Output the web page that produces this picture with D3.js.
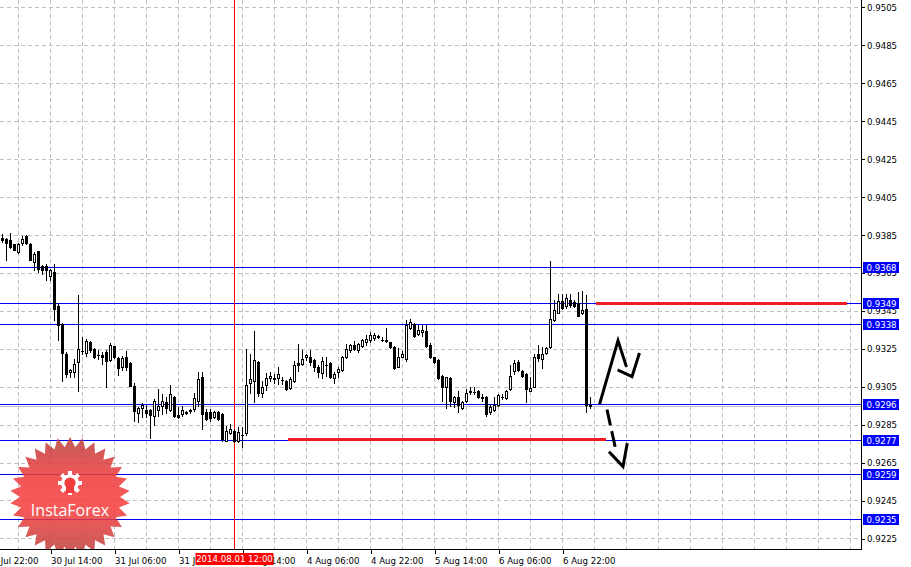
<!DOCTYPE html>
<html><head><meta charset="utf-8">
<script src="https://cdn.jsdelivr.net/npm/d3@7"></script>
<style>html,body{margin:0;padding:0;background:#fff;overflow:hidden}</style>
</head><body>
<svg id="c" width="911" height="567"></svg>
<script>
// ---- data (H1 candles, bar 0 = 30 Jul 02:00) ----
const opens = [0.93837,0.93832,0.93823,0.93802,0.93761,0.93809,0.93844,0.93806,0.93709,0.93765,
0.93686,0.93686,0.93633,0.93656,0.93475,0.93384,0.93225,0.93128,0.93128,0.93181,
0.93239,0.93231,0.93286,0.93252,0.93221,0.93220,0.93234,0.93194,0.93264,0.93202,
0.93158,0.93211,0.93176,0.93054,0.92916,0.92940,0.92930,0.92930,0.92900,0.92930,
0.92952,0.92974,0.92930,0.93000,0.92905,0.92909,0.92918,0.92925,0.92935,0.92979,
0.93102,0.92917,0.92921,0.92891,0.92917,0.92909,0.92768,0.92806,0.92821,0.92768,
0.92800,0.92806,0.93070,0.93084,0.93181,0.93017,0.93063,0.93097,0.93097,0.93097,
0.93089,0.93084,0.93046,0.93084,0.93176,0.93173,0.93207,0.93211,0.93194,0.93155,
0.93123,0.93168,0.93176,0.93099,0.93132,0.93141,0.93207,0.93246,0.93273,0.93246,
0.93264,0.93286,0.93299,0.93310,0.93316,0.93299,0.93296,0.93286,0.93260,0.93158,
0.93211,0.93199,0.93362,0.93384,0.93331,0.93339,0.93343,0.93274,0.93207,0.93195,
0.93111,0.93049,0.93097,0.92970,0.92996,0.92940,0.92979,0.93023,0.93023,0.93032,
0.92996,0.93000,0.92917,0.92930,0.92958,0.93000,0.92993,0.93041,0.93137,0.93181,
0.93137,0.93120,0.93032,0.93053,0.93222,0.93199,0.93231,0.93260,0.93401,0.93442,
0.93503,0.93475,0.93510,0.93498,0.93492,0.93442,0.93463,0.92958];
const highs = [0.93855,0.93837,0.93864,0.93806,0.93809,0.93844,0.93850,0.93811,0.93761,0.93767,
0.93691,0.93700,0.93674,0.93700,0.93494,0.93387,0.93234,0.93146,0.93199,0.93533,
0.93313,0.93304,0.93295,0.93257,0.93243,0.93234,0.93243,0.93281,0.93269,0.93211,
0.93216,0.93239,0.93181,0.93072,0.92947,0.92965,0.92956,0.92935,0.92988,0.93041,
0.93011,0.92996,0.93063,0.93005,0.92943,0.92952,0.92926,0.92935,0.93017,0.93128,
0.93128,0.92935,0.92935,0.92926,0.92926,0.92912,0.92847,0.92856,0.92830,0.92838,
0.92838,0.93252,0.93225,0.93345,0.93186,0.93084,0.93123,0.93132,0.93120,0.93155,
0.93102,0.93088,0.93102,0.93186,0.93278,0.93243,0.93225,0.93243,0.93199,0.93164,
0.93207,0.93207,0.93181,0.93128,0.93155,0.93216,0.93278,0.93278,0.93295,0.93281,
0.93304,0.93326,0.93339,0.93334,0.93322,0.93313,0.93360,0.93290,0.93264,0.93257,
0.93239,0.93401,0.93410,0.93387,0.93375,0.93378,0.93375,0.93281,0.93211,0.93199,
0.93116,0.93105,0.93102,0.93005,0.93032,0.92975,0.93041,0.93053,0.93053,0.93035,
0.93011,0.93005,0.92961,0.92996,0.93014,0.93014,0.93035,0.93167,0.93194,0.93194,
0.93141,0.93123,0.93105,0.93222,0.93274,0.93260,0.93260,0.93712,0.93507,0.93542,
0.93542,0.93542,0.93542,0.93507,0.93550,0.93556,0.93533,0.92996];
const lows = [0.93814,0.93721,0.93785,0.93770,0.93758,0.93797,0.93806,0.93718,0.93665,0.93656,
0.93647,0.93612,0.93616,0.93401,0.93299,0.93084,0.93102,0.93102,0.93102,0.93032,
0.93225,0.93216,0.93237,0.93204,0.93199,0.93173,0.93049,0.93190,0.93204,0.93116,
0.93141,0.93141,0.93054,0.92870,0.92864,0.92891,0.92891,0.92782,0.92852,0.92900,
0.92909,0.92912,0.92926,0.92894,0.92888,0.92900,0.92909,0.92912,0.92926,0.92952,
0.92830,0.92879,0.92873,0.92888,0.92877,0.92768,0.92764,0.92803,0.92759,0.92759,
0.92736,0.92800,0.93017,0.92970,0.93005,0.93000,0.93035,0.93084,0.93070,0.93067,
0.93067,0.93037,0.93041,0.93075,0.93137,0.93169,0.93194,0.93164,0.93137,0.93102,
0.93099,0.93111,0.93099,0.93070,0.93102,0.93137,0.93204,0.93234,0.93243,0.93234,
0.93260,0.93273,0.93286,0.93299,0.93310,0.93295,0.93286,0.93257,0.93146,0.93155,
0.93207,0.93190,0.93357,0.93313,0.93327,0.93317,0.93260,0.93204,0.93176,0.93093,
0.92979,0.92940,0.92952,0.92943,0.92917,0.92935,0.92970,0.93011,0.93011,0.92993,
0.92979,0.92900,0.92909,0.92926,0.92952,0.92988,0.92988,0.93035,0.93120,0.93137,
0.93102,0.92970,0.93028,0.93049,0.93190,0.93151,0.93225,0.93257,0.93397,0.93440,
0.93463,0.93468,0.93471,0.93471,0.93424,0.93436,0.92917,0.92940];
const closes = [0.93823,0.93809,0.93788,0.93774,0.93802,0.93832,0.93809,0.93721,0.93753,0.93674,
0.93669,0.93665,0.93665,0.93463,0.93375,0.93228,0.93120,0.93141,0.93173,0.93252,
0.93241,0.93295,0.93243,0.93207,0.93219,0.93211,0.93185,0.93274,0.93207,0.93149,
0.93202,0.93158,0.93058,0.92926,0.92940,0.92956,0.92916,0.92905,0.92979,0.92952,
0.92979,0.92940,0.93011,0.92900,0.92891,0.92930,0.92916,0.92927,0.92993,0.93093,
0.92909,0.92882,0.92888,0.92921,0.92880,0.92777,0.92821,0.92830,0.92764,0.92812,
0.92798,0.93062,0.93093,0.93194,0.93017,0.93053,0.93099,0.93109,0.93095,0.93120,
0.93087,0.93041,0.93093,0.93164,0.93164,0.93199,0.93220,0.93181,0.93155,0.93128,
0.93190,0.93166,0.93105,0.93120,0.93146,0.93211,0.93252,0.93273,0.93252,0.93278,
0.93299,0.93304,0.93322,0.93322,0.93317,0.93298,0.93295,0.93260,0.93149,0.93211,
0.93225,0.93378,0.93392,0.93317,0.93352,0.93352,0.93264,0.93207,0.93181,0.93097,
0.93053,0.93102,0.92979,0.93000,0.92958,0.92970,0.93017,0.93032,0.93022,0.92996,
0.92995,0.92909,0.92943,0.92958,0.93009,0.92999,0.93032,0.93111,0.93176,0.93141,
0.93111,0.93041,0.93046,0.93211,0.93204,0.93222,0.93255,0.93410,0.93454,0.93501,
0.93468,0.93521,0.93480,0.93475,0.93427,0.93454,0.92958,0.92952];

const priceTicks = [0.9505,0.9485,0.9465,0.9445,0.9425,0.9405,0.9385,0.9365,0.9345,0.9325,0.9305,0.9285,0.9265,0.9245,0.9225];
const timeTickBars = [-4,12,28,44,60,76,92,108,124,140];
const timeTickLabels = ["29 Jul 22:00","30 Jul 14:00","31 Jul 06:00","31 Jul 22:00","1 Aug 14:00","4 Aug 06:00","4 Aug 22:00","5 Aug 14:00","6 Aug 06:00","6 Aug 22:00"];
const levels = [0.9368,0.9349,0.9338,0.9296,0.9277,0.9259,0.9235];
const bidPrice = 0.92952;
const markerBar = 58, markerLabel = "2014.08.01 12:00";
const redSegments = [[148.5,211.25,0.9349],[71.5,151,0.92775]];
const arrowUp1 = [[149.5,0.92968],[154,0.93295],[156,0.93164]];
const arrowUp2 = [[154.25,0.93137],[157.5,0.93105],[159.25,0.93222]];
const arrowDownShaft = [[151.25,0.92931],[153.5,0.92715]];
const arrowDownHead = [[152,0.92704],[155.25,0.92631],[156.25,0.92747]];

// ---- layout ----
const PR = 861, PB = 550;
const FONT = "'DejaVu Sans', sans-serif";
const svg = d3.select("#c");
const x = d3.scaleLinear().domain([0,147]).range([2,590]);
const y = d3.scaleLinear().domain([0.921917,0.950895]).range([PB,0]);
const px = v => Math.round(x(v));
const py = v => Math.floor(y(v)) + 0.5;

svg.append("rect").attr("width",911).attr("height",567).attr("fill","#fff");
const defs = svg.append("defs");
defs.append("clipPath").attr("id","plot").append("rect").attr("width",PR).attr("height",PB);
const g = svg.append("g").attr("clip-path","url(#plot)").attr("shape-rendering","crispEdges");

// grid
const gridBars = d3.range(-4, 216, 8);
g.selectAll(".vg").data(gridBars).join("line")
  .attr("x1",d=>px(d)+0.5).attr("x2",d=>px(d)+0.5).attr("y1",0).attr("y2",PB)
  .attr("stroke","#c0c0c0").attr("stroke-dasharray","4,3");
g.selectAll(".hg").data(priceTicks).join("line")
  .attr("x1",0).attr("x2",PR).attr("y1",d=>py(d)).attr("y2",d=>py(d))
  .attr("stroke","#c0c0c0").attr("stroke-dasharray","4,3");

// bid line + levels
g.append("line").attr("x1",0).attr("x2",PR).attr("y1",py(bidPrice)+1).attr("y2",py(bidPrice)+1).attr("stroke","#c0c0c0");
g.selectAll(".lv").data(levels).join("line")
  .attr("x1",0).attr("x2",PR).attr("y1",d=>py(d)).attr("y2",d=>py(d)).attr("stroke","#0000ee");

// marker vertical line
g.append("line").attr("x1",px(markerBar)+0.5).attr("x2",px(markerBar)+0.5).attr("y1",0).attr("y2",PB).attr("stroke","#ff0000");

// candles
const bars = opens.map((o,i)=>({i,o,h:highs[i],l:lows[i],c:closes[i]}));
const cg = g.append("g");
cg.selectAll(".wick").data(bars).join("line")
  .attr("x1",d=>px(d.i)+0.5).attr("x2",d=>px(d.i)+0.5)
  .attr("y1",d=>Math.round(y(d.h))).attr("y2",d=>Math.round(y(d.l))+1)
  .attr("stroke","#000");
bars.forEach(d=>{
  const cx = px(d.i);
  const top = Math.round(y(Math.max(d.o,d.c))), bot = Math.round(y(Math.min(d.o,d.c)));
  if (bot - top < 1) {
    cg.append("rect").attr("x",cx-1).attr("y",top).attr("width",3).attr("height",1).attr("fill","#000");
  } else if (d.c > d.o) {
    cg.append("rect").attr("x",cx-0.5).attr("y",top+0.5).attr("width",2).attr("height",bot-top)
      .attr("fill","#fff").attr("stroke","#000");
  } else {
    cg.append("rect").attr("x",cx-1).attr("y",top).attr("width",3).attr("height",bot-top+1).attr("fill","#000");
  }
});

// red horizontal segments
g.selectAll(".rs").data(redSegments).join("rect")
  .attr("x",d=>x(d[0])).attr("width",d=>x(d[1])-x(d[0]))
  .attr("y",d=>y(d[2])-1.5).attr("height",3).attr("fill","#ee1c25");

// arrows
const lineGen = d3.line().x(d=>x(d[0])).y(d=>y(d[1]));
const ag = svg.append("g").attr("clip-path","url(#plot)");
[arrowUp1,arrowUp2,arrowDownHead].forEach(a=>{
  ag.append("path").attr("d",lineGen(a)).attr("fill","none").attr("stroke","#000")
    .attr("stroke-width",3).attr("stroke-linejoin","miter").attr("stroke-linecap","square");
});
ag.append("path").attr("d",lineGen(arrowDownShaft)).attr("fill","none").attr("stroke","#000")
  .attr("stroke-width",3).attr("stroke-dasharray","16,6");

// logo
const grad = defs.append("linearGradient").attr("id","lg").attr("x1",0).attr("y1",0).attr("x2",0).attr("y2",1);
grad.append("stop").attr("offset","0%").attr("stop-color","#b9413e");
grad.append("stop").attr("offset","35%").attr("stop-color","#f03a3a");
grad.append("stop").attr("offset","60%").attr("stop-color","#f53d3d");
grad.append("stop").attr("offset","100%").attr("stop-color","#b9413e");
const lx=70, ly=497, nPts=30, R=60, r=50;
const starPts = d3.range(nPts*2).map(j=>{
  const a = j*Math.PI/nPts - Math.PI/2, rr = j%2===0?R:r;
  return [lx+rr*Math.cos(a), ly+rr*Math.sin(a)];
});
const logo = svg.append("g").attr("clip-path","url(#plot)");
logo.append("path").attr("d","M"+starPts.map(p=>p.join(",")).join("L")+"Z")
  .attr("fill","url(#lg)").attr("fill-opacity",0.86);
// gear icon
const gx=70, gy=483;
const gear = logo.append("g").attr("fill","#fff");
d3.range(8).forEach(j=>{
  const a=j*Math.PI/4;
  gear.append("rect").attr("x",-2).attr("y",-12).attr("width",4).attr("height",5)
    .attr("transform",`translate(${gx},${gy}) rotate(${j*45})`);
});
gear.append("circle").attr("cx",gx).attr("cy",gy).attr("r",9);
logo.append("circle").attr("cx",gx).attr("cy",gy).attr("r",5.6).attr("fill","#f23c3c");
logo.append("rect").attr("x",gx-4).attr("y",gy+4).attr("width",8).attr("height",6).attr("fill","#f23c3c");
gear.append("circle").attr("cx",gx).attr("cy",gy-2.5).attr("r",2.6);
gear.append("rect").attr("x",gx-1.3).attr("y",gy-1).attr("width",2.6).attr("height",11);
logo.append("text").attr("x",lx).attr("y",516).attr("text-anchor","middle")
  .attr("font-family","'Open Sans', sans-serif").attr("font-size",16).attr("fill","#fff").text("InstaForex");

// axes
const yAxis = d3.axisRight(y).tickValues(priceTicks).tickFormat(d3.format(".4f")).tickSize(3).tickSizeOuter(0).tickPadding(3);
const ya = svg.append("g").attr("transform",`translate(${PR+0.5},0)`).call(yAxis);
ya.select(".domain").remove();
ya.selectAll("line").attr("stroke","#000").attr("shape-rendering","crispEdges");
ya.selectAll("text").attr("font-family",FONT).attr("font-size",8.6).attr("fill","#000").attr("x",5.5);

const xAxis = d3.axisBottom(x).tickValues(timeTickBars).tickFormat((d,i)=>timeTickLabels[i]).tickSize(4).tickSizeOuter(0).tickPadding(4);
const xa = svg.append("g").attr("transform",`translate(0.5,${PB-0.5})`).call(xAxis);
xa.select(".domain").remove();
xa.selectAll("line").attr("stroke","#000").attr("shape-rendering","crispEdges");
xa.selectAll("text").attr("font-family",FONT).attr("font-size",8.6).attr("fill","#000")
  .attr("text-anchor","start").attr("x",0);

svg.append("line").attr("x1",0).attr("x2",PR+1).attr("y1",PB-0.5).attr("y2",PB-0.5).attr("stroke","#000").attr("shape-rendering","crispEdges");
svg.append("line").attr("x1",PR+0.5).attr("x2",PR+0.5).attr("y1",0).attr("y2",PB).attr("stroke","#000").attr("shape-rendering","crispEdges");

// level labels
const ll = svg.append("g").selectAll("g").data(levels).join("g")
  .attr("transform",d=>`translate(${PR+1},${py(d)})`);
ll.append("rect").attr("x",1).attr("y",-5.5).attr("width",36).attr("height",11).attr("fill","#0000ff").attr("shape-rendering","crispEdges");
ll.append("text").attr("x",4.5).attr("y",0).attr("dy","0.35em").attr("font-family",FONT).attr("font-size",8.6)
  .attr("fill","#fff").text(d=>d3.format(".4f")(d));

// marker time label
const mx = x(markerBar)+0.5;
svg.append("rect").attr("x",mx-39).attr("y",553).attr("width",78).attr("height",12).attr("fill","#ff0000");
svg.append("text").attr("x",mx).attr("y",559).attr("dy","0.35em").attr("text-anchor","middle")
  .attr("font-family",FONT).attr("font-size",8.6).attr("fill","#fff").text(markerLabel);
</script>
</body></html>
